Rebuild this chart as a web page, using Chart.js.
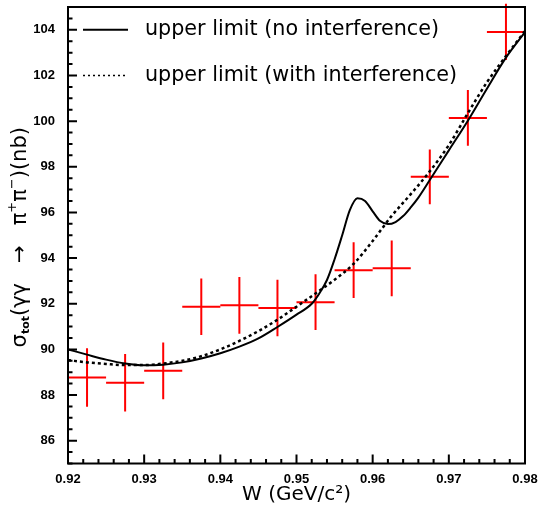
<!DOCTYPE html>
<html>
<head>
<meta charset="utf-8">
<script src="https://cdn.jsdelivr.net/npm/chart.js@4"></script>
<style>
  html, body { margin: 0; padding: 0; background: #fff; }
  #c { display: block; }
</style>
</head>
<body>
<canvas id="c" width="540" height="506"></canvas>
<script>
// ---- data ----
const W_CENTERS = [0.9225, 0.9275, 0.9325, 0.9375, 0.9425, 0.9475, 0.9525, 0.9575, 0.9625, 0.9675, 0.9725, 0.9775];
const W_HALFBIN = [0.0025, 0.0025, 0.0025, 0.0025, 0.0025, 0.0025, 0.0025, 0.0025, 0.0025, 0.0025, 0.0025, 0.0025];
const SIGMA     = [88.77, 88.54, 89.06, 91.87, 91.93, 91.81, 92.07, 93.47, 93.55, 97.56, 100.14, 103.91];
const SIGMA_ERR = [1.28, 1.26, 1.24, 1.24, 1.24, 1.24, 1.22, 1.22, 1.22, 1.20, 1.22, 1.23];

// upper limit, no interference (solid)
const NOINT_W     = [0.9200, 0.9225, 0.9250, 0.9275, 0.9300, 0.9325, 0.9350, 0.9375, 0.9400, 0.9425, 0.9450, 0.9475, 0.9500, 0.9520, 0.9530, 0.9540, 0.9550, 0.9560, 0.9570, 0.9580, 0.9590, 0.9600, 0.9610, 0.9620, 0.9630, 0.9640, 0.9650, 0.9660, 0.9675, 0.9700, 0.9725, 0.9750, 0.9775, 0.9800];
const NOINT_SIGMA = [90.00, 89.77, 89.55, 89.38, 89.30, 89.33, 89.43, 89.60, 89.83, 90.12, 90.48, 90.98, 91.52, 92.00, 92.45, 93.04, 93.95, 95.00, 96.10, 96.62, 96.50, 96.05, 95.62, 95.49, 95.58, 95.84, 96.22, 96.65, 97.42, 98.72, 100.02, 101.42, 102.78, 103.90];

// upper limit, with interference (dotted)
const INT_W     = [0.9200, 0.9225, 0.9250, 0.9275, 0.9300, 0.9325, 0.9350, 0.9375, 0.9400, 0.9425, 0.9450, 0.9475, 0.9500, 0.9525, 0.9550, 0.9575, 0.9600, 0.9625, 0.9650, 0.9675, 0.9700, 0.9725, 0.9750, 0.9775, 0.9800];
const INT_SIGMA = [89.53, 89.43, 89.36, 89.31, 89.31, 89.38, 89.50, 89.70, 90.00, 90.37, 90.80, 91.30, 91.87, 92.45, 93.05, 93.75, 94.75, 95.85, 96.80, 97.80, 98.95, 100.35, 101.70, 102.85, 103.95];

const X_TICKS = [0.92, 0.93, 0.94, 0.95, 0.96, 0.97, 0.98];
const Y_TICKS = [86, 88, 90, 92, 94, 96, 98, 100, 102, 104];
const X_MINOR_STEP = 0.002;
const Y_MINOR_STEP = 0.5;

const LEGEND_LABELS = ['upper limit (no interference)', 'upper limit (with interference)'];

// ---- build datasets ----
const noIntPts = NOINT_W.map((w, i) => ({ x: w, y: NOINT_SIGMA[i] }));
const intPts = INT_W.map((w, i) => ({ x: w, y: INT_SIGMA[i] }));
const crossPts = [];
W_CENTERS.forEach((w, i) => {
  crossPts.push({ x: w - W_HALFBIN[i], y: SIGMA[i] }, { x: w + W_HALFBIN[i], y: SIGMA[i] }, { x: w, y: null },
                { x: w, y: SIGMA[i] - SIGMA_ERR[i] }, { x: w, y: SIGMA[i] + SIGMA_ERR[i] }, { x: w, y: null });
});

const TEXT_FONT = "'DejaVu Sans', sans-serif";
const TICK_FONT = "'Liberation Sans', Arial, sans-serif";

// frame + inward ticks
const framePlugin = {
  id: 'frame',
  afterDraw(chart) {
    const { ctx, chartArea: a, scales: { x, y } } = chart;
    ctx.save();
    ctx.strokeStyle = '#000';
    ctx.lineWidth = 2;
    ctx.beginPath();
    const nY = Math.round((y.max - y.min) / Y_MINOR_STEP);
    for (let k = 0; k <= nY; k++) {
      const v = y.min + k * Y_MINOR_STEP;
      const major = Y_TICKS.some(t => Math.abs(t - v) < 1e-6);
      const p = y.getPixelForValue(v);
      const len = major ? 9 : 4.5;
      ctx.moveTo(a.left, p);
      ctx.lineTo(a.left + len, p);
    }
    const nX = Math.round((x.max - x.min) / X_MINOR_STEP);
    for (let k = 0; k <= nX; k++) {
      const v = x.min + k * X_MINOR_STEP;
      const major = X_TICKS.some(t => Math.abs(t - v) < 1e-6);
      const p = x.getPixelForValue(v);
      const len = major ? 9 : 4.5;
      ctx.moveTo(p, a.bottom);
      ctx.lineTo(p, a.bottom - len);
    }
    ctx.stroke();
    ctx.strokeRect(a.left, a.top, a.right - a.left, a.bottom - a.top);
    ctx.restore();
  }
};

// legend inside the plot
const legendPlugin = {
  id: 'innerLegend',
  afterDraw(chart) {
    const { ctx, chartArea: a, scales: { y } } = chart;
    const rows = [y.getPixelForValue(104), y.getPixelForValue(102)];
    ctx.save();
    LEGEND_LABELS.forEach((lab, i) => {
      const ds = chart.data.datasets[i];
      const yy = rows[i];
      ctx.strokeStyle = ds.borderColor;
      ctx.lineWidth = i === 0 ? 2 : 1.5;
      ctx.setLineDash(i === 0 ? [] : [2, 3]);
      ctx.beginPath();
      ctx.moveTo(a.left + 15, yy);
      ctx.lineTo(a.left + 60, yy);
      ctx.stroke();
      ctx.setLineDash([]);
      ctx.fillStyle = '#000';
      ctx.font = '20.7px ' + TEXT_FONT;
      ctx.textBaseline = 'middle';
      ctx.textAlign = 'left';
      ctx.fillText(lab, a.left + 77, yy);
    });
    ctx.restore();
  }
};

// y-axis title with sub/superscripts
const yTitlePlugin = {
  id: 'yTitle',
  afterDraw(chart) {
    const { ctx, chartArea: a } = chart;
    const main = '21px ' + TEXT_FONT;
    const small = 'bold 11px ' + TEXT_FONT;
    const sup = '13px ' + TEXT_FONT;
    const parts = [
      { t: 'σ', f: main, dy: 0 },
      { t: 'tot', f: small, dy: 5 },
      { t: '(γγ   →   π', f: main, dy: 0 },
      { t: '+', f: sup, dy: -8 },
      { t: 'π', f: main, dy: 0 },
      { t: '−', f: sup, dy: -8 },
      { t: ')(nb)', f: main, dy: 0 }
    ];
    ctx.save();
    let total = 0;
    parts.forEach(p => { ctx.font = p.f; p.w = ctx.measureText(p.t).width; total += p.w; });
    const cy = (a.top + a.bottom) / 2 + 2;
    ctx.translate(21, cy);
    ctx.rotate(-Math.PI / 2);
    ctx.fillStyle = '#000';
    ctx.textBaseline = 'middle';
    ctx.textAlign = 'left';
    let xx = -total / 2;
    parts.forEach(p => { ctx.font = p.f; ctx.fillText(p.t, xx, p.dy); xx += p.w; });
    ctx.restore();
  }
};

new Chart(document.getElementById('c'), {
  type: 'line',
  data: {
    datasets: [
      { label: LEGEND_LABELS[0], data: noIntPts, borderColor: '#000', borderWidth: 2, pointRadius: 0,
        cubicInterpolationMode: 'monotone', fill: false },
      { label: LEGEND_LABELS[1], data: intPts, borderColor: '#000', borderWidth: 2.5, borderDash: [3, 3], pointRadius: 0,
        cubicInterpolationMode: 'monotone', fill: false },
      { label: 'data', data: crossPts, borderColor: '#ff0000', borderWidth: 2, pointRadius: 0, tension: 0,
        spanGaps: false, fill: false, clip: false, borderCapStyle: 'butt' }
    ]
  },
  options: {
    responsive: false,
    animation: false,
    devicePixelRatio: 1,
    layout: { padding: { left: 0, right: 15, top: 7, bottom: 0 } },
    plugins: { legend: { display: false }, tooltip: { enabled: false }, title: { display: false } },
    scales: {
      x: {
        type: 'linear', min: 0.92, max: 0.98,
        afterBuildTicks: s => { s.ticks = X_TICKS.map(v => ({ value: v })); },
        afterFit: s => { s.height = 42.5; s.paddingLeft = 0; s.paddingRight = 0; },
        grid: { display: false, drawTicks: false },
        border: { display: false },
        ticks: { padding: 8, color: '#000', autoSkip: false, maxRotation: 0,
                 font: { family: TICK_FONT, weight: 'bold', size: 13 },
                 callback: v => Number(v).toFixed(2) },
        title: { display: true, text: 'W (GeV/c²)', color: '#000', padding: { top: 0, bottom: 0 },
                 font: { family: TEXT_FONT, size: 20, lineHeight: 1.1 } }
      },
      y: {
        type: 'linear', min: 85, max: 105,
        afterBuildTicks: s => { s.ticks = Y_TICKS.map(v => ({ value: v })); },
        afterFit: s => { s.width = 68; s.paddingTop = 0; s.paddingBottom = 0; },
        grid: { display: false, drawTicks: false },
        border: { display: false },
        ticks: { padding: 13, color: '#000', autoSkip: false,
                 font: { family: TICK_FONT, weight: 'bold', size: 13 },
                 callback: v => String(v) },
        title: { display: false }
      }
    }
  },
  plugins: [framePlugin, legendPlugin, yTitlePlugin]
});
</script>
</body>
</html>
